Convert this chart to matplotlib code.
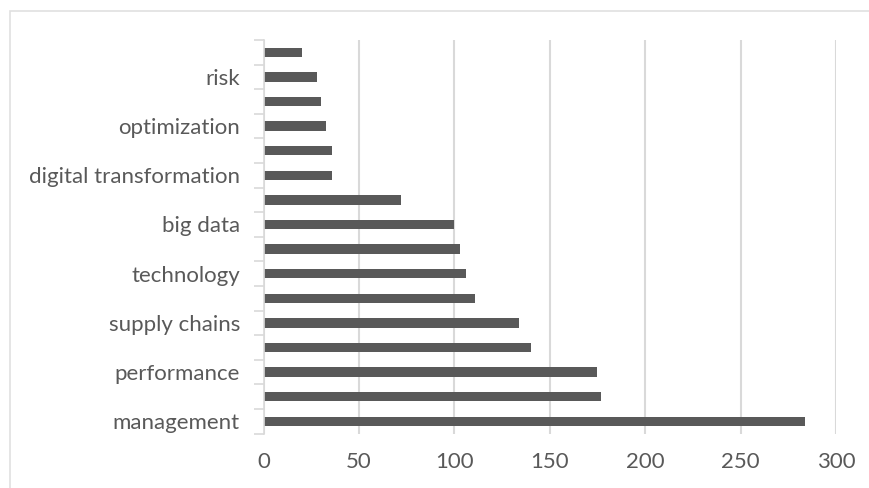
import matplotlib
matplotlib.use("Agg")
import matplotlib.pyplot as plt
from matplotlib.patches import Rectangle
from matplotlib.ticker import FixedLocator, NullFormatter

# Keyword frequencies, listed bottom to top
keywords = [
    "management", "supply chain management", "performance", "industry 4.0",
    "supply chains", "sustainability", "technology", "artificial intelligence",
    "big data", "logistics", "digital transformation", "internet of things",
    "optimization", "blockchain", "risk", "innovation",
]
counts = [284, 177, 175, 140, 134, 111, 106, 103, 100, 72, 36, 36, 33, 30, 28, 20]
x_ticks = [0, 50, 100, 150, 200, 250, 300]

BAR = "#595959"
GRID = "#d9d9d9"
TEXT = "#595959"
FONT = ["Lato", "DejaVu Sans"]
FS = 16

fig = plt.figure(figsize=(8.69, 4.88), dpi=100)
W, H = 869, 488
ax = fig.add_axes([263.5 / W, (H - 433.5) / H, (836 - 263.5) / W, (433.5 - 40) / H])

positions = list(range(len(keywords)))
ax.barh(positions, counts, height=0.38, color=BAR, zorder=3)

ax.set_xlim(0, 300)
ax.set_ylim(-0.5, len(keywords) - 0.5)
ax.set_xticks(x_ticks)
ax.set_xticklabels([str(t) for t in x_ticks], family=FONT, fontsize=FS, color=TEXT)
ax.tick_params(axis="x", length=0, pad=13)
ax.grid(axis="x", color=GRID, linewidth=1.5, zorder=0)

# category boundaries carry the tick marks, centres carry the labels
ax.yaxis.set_major_locator(FixedLocator([p - 0.5 for p in positions] + [len(keywords) - 0.5]))
ax.yaxis.set_major_formatter(NullFormatter())
ax.tick_params(axis="y", which="major", length=7, width=1.2, color=GRID)
ax.yaxis.set_minor_locator(FixedLocator(positions))
ax.set_yticklabels([k if i % 2 == 0 else "" for i, k in enumerate(keywords)], minor=True,
                   family=FONT, fontsize=FS, color=TEXT)
ax.tick_params(axis="y", which="minor", length=0, pad=17)

for side in ("top", "right", "bottom"):
    ax.spines[side].set_visible(False)
ax.spines["left"].set_color(GRID)
ax.spines["left"].set_linewidth(1.2)
ax.spines["left"].set_zorder(4)

# outer chart frame
fig.patches.append(Rectangle((10 / W, -0.1), 1.2, (H - 11.5) / H + 0.1,
                             transform=fig.transFigure, fill=False,
                             edgecolor="#e0e0e0", linewidth=1.2))

fig.savefig("out.png", dpi=100, facecolor="white")
